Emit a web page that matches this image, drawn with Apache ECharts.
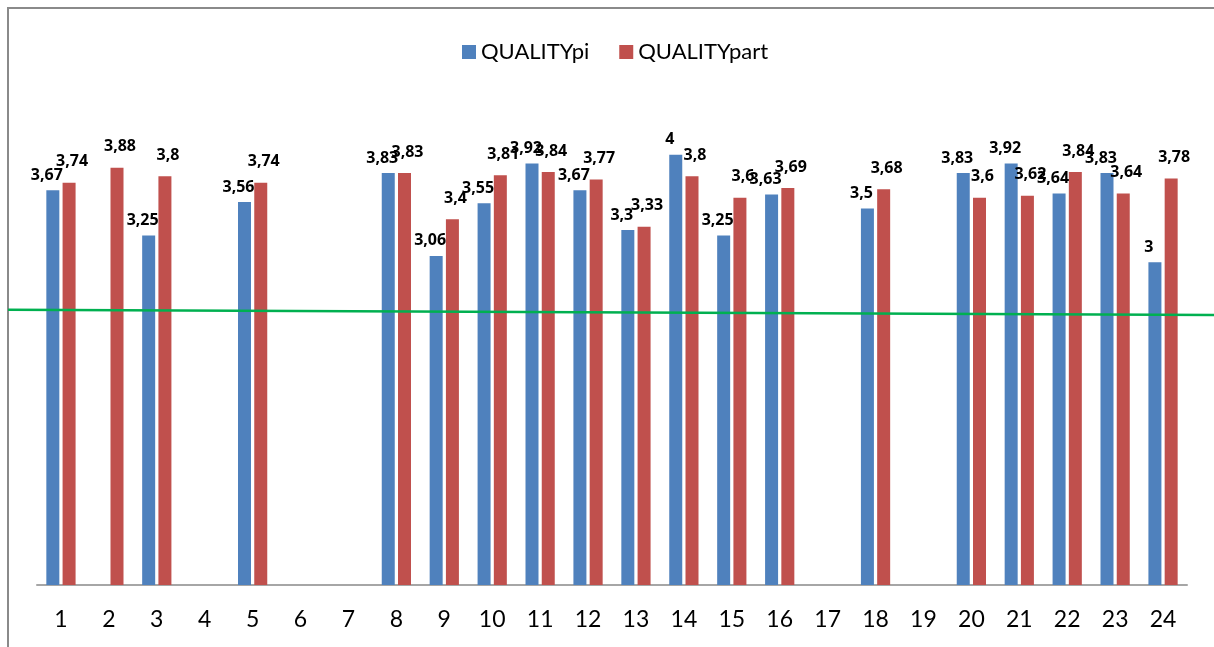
<!DOCTYPE html>
<html>
<head>
<meta charset="utf-8">
<script src="https://cdn.jsdelivr.net/npm/echarts@6/dist/echarts.min.js"></script>
<style>
  html, body { margin: 0; padding: 0; background: #fff; }
  #chart { width: 1214px; height: 647px; }
</style>
</head>
<body>
<div id="chart"></div>
<script>
  // categories 1..24
  var categories = ['1','2','3','4','5','6','7','8','9','10','11','12',
                    '13','14','15','16','17','18','19','20','21','22','23','24'];
  var qualityPi = [3.67, '-', 3.25, '-', 3.56, '-', '-', 3.83, 3.06, 3.55, 3.92, 3.67,
                   3.3, 4, 3.25, 3.63, '-', 3.5, '-', 3.83, 3.92, 3.64, 3.83, 3];
  var qualityPart = [3.74, 3.88, 3.8, '-', 3.74, '-', '-', 3.83, 3.4, 3.81, 3.84, 3.77,
                     3.33, 3.8, 3.6, 3.69, '-', 3.68, '-', 3.6, 3.62, 3.84, 3.64, 3.78];
  // green reference line, left edge -> right edge
  var greenLine = [[0, 2.56], [1, 2.51]];

  var font = 'Lato, "Noto Sans", sans-serif';
  var boldFont = '"Noto Sans", sans-serif';
  var fmt = function (p) { return String(p.value).replace('.', ','); };

  var myChart = echarts.init(document.getElementById('chart'));
  var option = {
    backgroundColor: '#fff',
    animation: false,
    graphic: [{
      type: 'rect',
      shape: { x: 8, y: 8, width: 1400, height: 1000 },
      style: { fill: 'none', stroke: '#8a8a8a', lineWidth: 2 },
      z: -10
    }],
    legend: {
      data: ['QUALITYpi', 'QUALITYpart'],
      top: 36,
      left: 457,
      itemWidth: 14,
      itemHeight: 14,
      itemGap: 30,
      icon: 'rect',
      textStyle: { fontFamily: font, fontSize: 22, color: '#000' }
    },
    grid: [
      { left: 37, right: 27, top: 101, bottom: 62 },
      { left: 8, right: 0, top: 101, bottom: 62 }
    ],
    xAxis: [{
      type: 'category',
      gridIndex: 0,
      data: categories,
      axisLine: { lineStyle: { color: '#a6a6a6', width: 2 } },
      axisTick: { show: false },
      axisLabel: { fontFamily: font, fontSize: 23, color: '#000', margin: 23 }
    }, {
      type: 'value',
      gridIndex: 1,
      min: 0, max: 1,
      show: false
    }],
    yAxis: [{
      type: 'value',
      gridIndex: 0,
      min: 0, max: 4.5,
      show: false,
      splitLine: { show: false }
    }, {
      type: 'value',
      gridIndex: 1,
      min: 0, max: 4.5,
      show: false,
      splitLine: { show: false }
    }],
    series: [
      {
        name: 'QUALITYpi',
        type: 'bar',
        data: qualityPi,
        barWidth: 13,
        barGap: '25%',
        itemStyle: { color: '#4f81bd' },
        label: {
          show: true, position: 'top', distance: 7, offset: [-6, 0],
          formatter: fmt,
          fontFamily: boldFont, fontSize: 16, fontWeight: 'bold', color: '#000'
        }
      },
      {
        name: 'QUALITYpart',
        type: 'bar',
        data: qualityPart,
        barWidth: 13,
        itemStyle: { color: '#c0504d' },
        label: {
          show: true, position: 'top', distance: 13, offset: [3, 0],
          formatter: fmt,
          fontFamily: boldFont, fontSize: 16, fontWeight: 'bold', color: '#000'
        }
      },
      {
        name: 'line',
        type: 'line',
        xAxisIndex: 1,
        yAxisIndex: 1,
        data: greenLine,
        symbol: 'none',
        lineStyle: { color: '#00b050', width: 2.5 },
        z: 5
      }
    ]
  };
  myChart.setOption(option, true);
</script>
</body>
</html>
